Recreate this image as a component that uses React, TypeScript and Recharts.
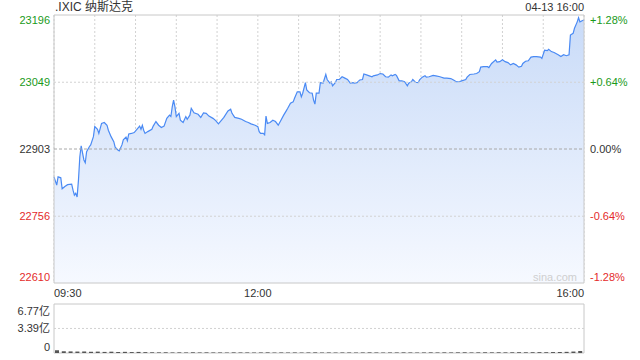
import { ComposedChart, BarChart, Area, Line, Bar, XAxis, YAxis, CartesianGrid, ReferenceLine, ReferenceArea } from 'recharts'

const FONT = '"Liberation Sans", Arial, "Noto Sans CJK SC", sans-serif'
const GREEN = '#1a9a1a'
const RED = '#e42b2b'
const DARK = '#333'
const LINE = '#4a8af4'

// minutes after 09:30
const minutes = [
  0, 2, 3, 5, 6, 8, 10, 13, 14, 15, 16, 17, 18, 19, 20, 22, 23, 24, 26, 27,
  29, 30, 32, 33, 35, 37, 39, 40, 42, 44, 45, 47, 48, 50, 51, 53, 54, 55, 57, 59,
  61, 63, 64, 65, 66, 67, 69, 72, 73, 75, 77,
  79, 81, 83, 85, 86, 87, 88, 89, 90, 92, 93, 95, 97, 98, 100, 101, 103, 106, 108, 110,
  112, 114, 117, 119, 121, 123, 125, 128, 130, 131, 133, 136, 138, 141, 143, 145, 148, 150, 151, 152,
  154, 155, 156, 157, 159,
  161, 163, 165, 167, 169, 171, 172, 174, 176, 177, 179, 181, 182, 183, 185, 186, 188, 190, 191, 192,
  193, 195, 196, 198, 200, 201, 203, 204, 205, 207, 208, 210, 212, 214, 216, 218, 220, 221, 223, 225,
  227, 228, 230, 232, 234, 235, 238,
  240, 242, 244, 246, 248, 249, 251, 252, 254, 256, 258, 260, 261, 263, 264, 266, 268, 269, 271, 273,
  274, 276, 279, 281, 284, 287, 289, 292, 294, 296, 298, 300, 303, 304, 306, 309, 311, 313, 314, 316,
  318,
  319, 320, 322, 325, 326, 328, 330, 332, 334, 336, 338, 340, 342, 344, 345, 347, 349, 351, 353, 355,
  358, 359, 361, 363, 364, 366, 368, 371, 373, 375, 377, 379, 380, 382, 383, 385, 386, 387, 389, 390,
]

const prices = [
  22842, 22824, 22842, 22840, 22816, 22821, 22825, 22826, 22813, 22802, 22806, 22798, 22835, 22886, 22910, 22879, 22873, 22897, 22908, 22912,
  22930, 22952, 22946, 22937, 22959, 22961, 22955, 22944, 22930, 22919, 22907, 22901, 22899, 22912, 22923, 22929, 22921, 22936, 22937, 22939,
  22946, 22953, 22946, 22955, 22944, 22937, 22941, 22946, 22953, 22963, 22955,
  22950, 22953, 22970, 22977, 22974, 22995, 23010, 22995, 22974, 22981, 22966, 22961, 22974, 22968, 22977, 22992, 22982, 22979, 22972, 22982,
  22981, 22975, 22970, 22965, 22958, 22965, 22972, 22986, 22990, 22981, 22972, 22970, 22968, 22963, 22961, 22958, 22955, 22952, 22941, 22937,
  22937, 22934, 22975, 22959, 22961,
  22966, 22963, 22955, 22966, 22977, 22987, 22992, 23003, 23006, 23014, 23028, 23028, 23017, 23025, 23048, 23032, 23026, 23025, 23010, 23001,
  23025, 23025, 23048, 23047, 23066, 23055, 23047, 23050, 23041, 23048, 23055, 23055, 23061, 23058, 23055, 23047, 23048, 23047, 23048, 23054,
  23055, 23067, 23065, 23063, 23061, 23063, 23065,
  23068, 23067, 23061, 23060, 23065, 23063, 23066, 23064, 23052, 23052, 23050, 23041, 23047, 23050, 23055, 23049, 23048, 23054, 23060, 23063,
  23060, 23061, 23064, 23063, 23061, 23058, 23058, 23057, 23054, 23050, 23050, 23052, 23055, 23060, 23066, 23067, 23068, 23072, 23082, 23083,
  23083,
  23083, 23081, 23090, 23098, 23093, 23094, 23098, 23094, 23092, 23087, 23090, 23087, 23082, 23084, 23090, 23095, 23096, 23104, 23105, 23105,
  23104, 23101, 23119, 23118, 23121, 23116, 23114, 23109, 23105, 23109, 23107, 23109, 23152, 23156, 23167, 23181, 23190, 23181, 23184, 23185,
]

// volume in 亿, one bar per 5 minutes
const volumes = [
  0.38, 0.24, 0.22, 0.2, 0.21, 0.17, 0.19, 0.15, 0.18, 0.14, 0.16, 0.13, 0.15, 0.12,
  0.1, 0.09, 0.1, 0.08, 0.09, 0.08, 0.1, 0.08, 0.09, 0.08, 0.08, 0.07, 0.09, 0.08,
  0.08, 0.07, 0.08, 0.09, 0.07, 0.08, 0.07, 0.08, 0.07, 0.08, 0.09, 0.07, 0.08, 0.07,
  0.08, 0.08, 0.07, 0.08, 0.09, 0.08, 0.07, 0.08, 0.08, 0.09, 0.08, 0.07, 0.08, 0.09,
  0.08, 0.09, 0.08, 0.09, 0.1, 0.08, 0.09, 0.1, 0.09, 0.1, 0.09, 0.1, 0.11, 0.1,
  0.11, 0.12, 0.11, 0.13, 0.14, 0.16, 0.2, 0.28,
]

const prevClose = 22903
const priceTicks = [22610, 22756, 22903, 23049, 23196]
const pctLabels = ['-1.28%', '-0.64%', '0.00%', '+0.64%', '+1.28%']
const timeTicks = [0, 30, 60, 90, 120, 150, 180, 210, 240, 270, 300, 330, 360, 390]
const timeLabels: Record<number, string> = { 0: '09:30', 150: '12:00', 390: '16:00' }
const volTicks = [0, 3.39, 6.77]
const volLabels = ['0', '3.39亿', '6.77亿']

const data = minutes.map((m, i) => ({ m, p: prices[i] }))
const volData = volumes.map((v, i) => ({ i, v }))

const colorFor = (v: number) => (v > prevClose ? GREEN : v < prevClose ? RED : DARK)

const LeftTick = (props: any) => {
  const { x, y, payload } = props
  const i = priceTicks.indexOf(payload.value)
  const dy = i === 0 ? -6 : i === priceTicks.length - 1 ? 5 : 0
  return (
    <text x={x} y={y + dy} textAnchor="end" dominantBaseline="central" fill={colorFor(payload.value)} fontSize={11} fontFamily={FONT}>
      {payload.value}
    </text>
  )
}

const RightTick = (props: any) => {
  const { x, y, payload } = props
  const i = priceTicks.indexOf(payload.value)
  const dy = i === 0 ? -6 : i === priceTicks.length - 1 ? 5 : 0
  return (
    <text x={x} y={y + dy} textAnchor="start" dominantBaseline="central" fill={colorFor(payload.value)} fontSize={11} fontFamily={FONT}>
      {pctLabels[i]}
    </text>
  )
}

const TimeTick = (props: any) => {
  const { x, y, payload } = props
  const label = timeLabels[payload.value]
  if (!label) return <g />
  const anchor = payload.value === 0 ? 'start' : payload.value === 390 ? 'end' : 'middle'
  return (
    <text x={x} y={y + 6} textAnchor={anchor} dominantBaseline="central" fill={DARK} fontSize={11} fontFamily={FONT}>
      {label}
    </text>
  )
}

const VolTick = (props: any) => {
  const { x, y, payload } = props
  const i = volTicks.indexOf(payload.value)
  const dy = i === 0 ? -6 : i === volTicks.length - 1 ? 7 : 0
  return (
    <text x={x} y={y + dy} textAnchor="end" dominantBaseline="central" fill={DARK} fontSize={11} fontFamily={FONT}>
      {volLabels[i]}
    </text>
  )
}

export default function App() {
  return (
    <div style={{ position: 'absolute', left: 0, top: 0, width: 640, height: 360, background: '#fff', fontFamily: FONT }}>
      <div style={{ position: 'absolute', left: 55, top: 0, fontSize: 12, lineHeight: '14px', color: DARK }}>.IXIC 纳斯达克</div>
      <div style={{ position: 'absolute', left: 0, top: 0, width: 584, textAlign: 'right', fontSize: 11, lineHeight: '14px', color: DARK }}>04-13 16:00</div>

      <div style={{ position: 'absolute', left: 0, top: 0 }}>
        <ComposedChart width={640} height={300} data={data} margin={{ top: 15, right: 0, bottom: 0, left: 0 }}>
          <defs>
            <linearGradient id="priceFill" x1="0" y1="0" x2="0" y2="1">
              <stop offset="0%" stopColor="#c9dbf8" />
              <stop offset="100%" stopColor="#f6f9ff" />
            </linearGradient>
          </defs>
          <CartesianGrid horizontal={false} stroke="#d2d2d2" strokeDasharray="2 2" />
          <XAxis dataKey="m" type="number" domain={[0, 390]} ticks={timeTicks} height={17} axisLine={false} tickLine={false} tickSize={0} tickMargin={4} tick={<TimeTick />} interval={0} />
          <YAxis domain={[22610, 23196]} ticks={priceTicks} width={54} axisLine={false} tickLine={false} tickSize={0} tickMargin={4} tick={<LeftTick />} interval={0} />
          <YAxis yAxisId="right" orientation="right" domain={[22610, 23196]} ticks={priceTicks} width={56} axisLine={false} tickLine={false} tickSize={0} tickMargin={6} tick={<RightTick />} interval={0} />
          <ReferenceLine y={23049} stroke="#d2d2d2" strokeDasharray="2 2" />
          <ReferenceLine y={22756} stroke="#d2d2d2" strokeDasharray="2 2" />
          <Area dataKey="p" type="linear" stroke={LINE} strokeWidth={1.2} fill="url(#priceFill)" fillOpacity={1} dot={false} activeDot={false} isAnimationActive={false} />
          <Line yAxisId="right" dataKey="p" stroke="none" dot={false} activeDot={false} isAnimationActive={false} />
          <ReferenceLine y={prevClose} stroke="#a8a8a8" strokeDasharray="3 2" />
          <ReferenceArea y1={22610} y2={23196} fill="none" stroke="#c8c8c8" />
        </ComposedChart>
      </div>

      <div style={{ position: 'absolute', left: 0, top: 270, width: 577, textAlign: 'right', fontSize: 11, lineHeight: '14px', color: '#cfcfcf' }}>sina.com</div>

      <div style={{ position: 'absolute', left: 0, top: 300 }}>
        <BarChart width={640} height={60} data={volData} margin={{ top: 4, right: 56, bottom: 7, left: 0 }} barCategoryGap={0}>
          <XAxis dataKey="i" hide />
          <YAxis domain={[0, 6.77]} ticks={volTicks} width={54} axisLine={false} tickLine={false} tickSize={0} tickMargin={4} tick={<VolTick />} interval={0} />
          <ReferenceLine y={3.39} stroke="#d2d2d2" strokeDasharray="2 2" />
          <Bar dataKey="v" fill="#555" barSize={4} isAnimationActive={false} />
          <ReferenceArea y1={0} y2={6.77} fill="none" stroke="#c8c8c8" />
        </BarChart>
      </div>
    </div>
  )
}
